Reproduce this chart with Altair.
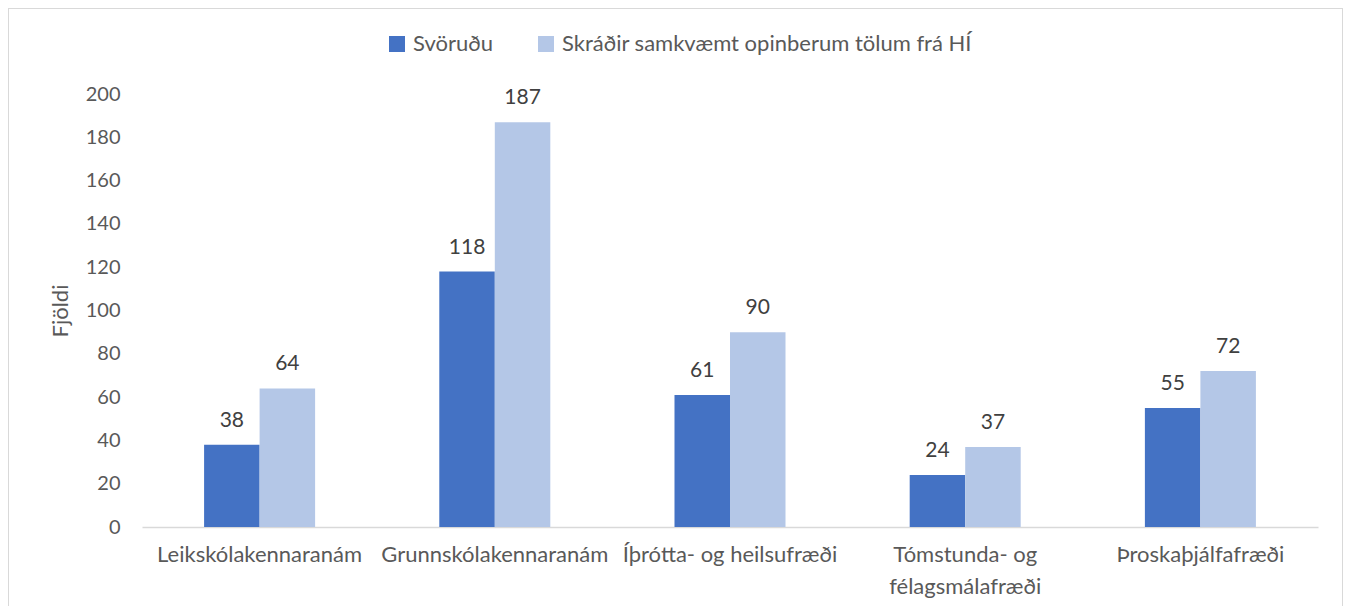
import altair as alt
import pandas as pd

categories = ["Leikskólakennaranám", "Grunnskólakennaranám", "Íþrótta- og heilsufræði",
              "Tómstunda- og|félagsmálafræði", "Þroskaþjálfafræði"]
svorudu = [38, 118, 61, 24, 55]
skradir = [64, 187, 90, 37, 72]
series = ["Svöruðu", "Skráðir samkvæmt opinberum tölum frá HÍ"]
colors = ["#4472C4", "#B4C7E7"]
y_ticks = [0, 20, 40, 60, 80, 100, 120, 140, 160, 180, 200]

rows = []
for c, a, b in zip(categories, svorudu, skradir):
    rows.append({"cat": c, "series": series[0], "value": a})
    rows.append({"cat": c, "series": series[1], "value": b})
df = pd.DataFrame(rows)

FONT = "Lato"
TXT = "#595959"

base = alt.Chart(df).encode(
    x=alt.X("cat:N", sort=categories,
            scale=alt.Scale(paddingInner=0.528, paddingOuter=0.264),
            axis=alt.Axis(title=None, labelAngle=0, labelExpr="split(datum.label, '|')",
                          labelBaseline="top", labelPadding=17, labelLineHeight=32,
                          labelFontSize=22, labelColor=TXT, labelFont=FONT, labelLimit=400,
                          ticks=False, domain=True, domainColor="#D9D9D9", domainWidth=1.5,
                          grid=False)),
    xOffset=alt.XOffset("series:N", sort=series,
                        scale=alt.Scale(paddingInner=0, paddingOuter=0)),
    y=alt.Y("value:Q", scale=alt.Scale(domain=[0, 200], nice=False),
            axis=alt.Axis(values=y_ticks, title="Fjöldi", grid=False, domain=False, ticks=False,
                          labelPadding=22, labelFontSize=20, labelColor=TXT, labelFont=FONT,
                          titleFontSize=22, titleFont=FONT, titleColor=TXT,
                          titleFontWeight="normal", titlePadding=13)),
)

bars = base.mark_bar().encode(
    color=alt.Color("series:N", sort=series,
                    scale=alt.Scale(domain=series, range=colors),
                    legend=alt.Legend(title=None, orient="none", direction="horizontal",
                                      legendX=244, legendY=-61, symbolType="square",
                                      symbolSize=256, symbolStrokeWidth=0,
                                      labelFontSize=22, labelFont=FONT, labelColor=TXT,
                                      labelOffset=5, columnPadding=42, labelLimit=600))
)

labels = base.mark_text(baseline="alphabetic", dy=-18, fontSize=21, font=FONT,
                        color="#404040").encode(text=alt.Text("value:Q"))

frame_df = pd.DataFrame({"k": [0]})
frame_left = alt.Chart(frame_df).mark_rule(color="#D9D9D9", strokeWidth=1).encode(
    x=alt.value(-133.5), y=alt.value(-86), y2=alt.value(512))
frame_top = alt.Chart(frame_df).mark_rule(color="#D9D9D9", strokeWidth=1).encode(
    y=alt.value(-85.5), x=alt.value(-134), x2=alt.value(1201))
frame_right = alt.Chart(frame_df).mark_rule(color="#D9D9D9", strokeWidth=1).encode(
    x=alt.value(1200.5), y=alt.value(-86), y2=alt.value(512))

chart = alt.layer(frame_left, frame_top, frame_right, bars, labels).properties(
    width=1176, height=433,
    autosize=alt.AutoSizeParams(type="none"),
    padding={"left": 134, "top": 86, "right": 26, "bottom": 79},
).configure(background="white").configure_view(strokeWidth=0, stroke=None)

chart.save("out.html", embed_options={"renderer": "svg", "actions": False})
